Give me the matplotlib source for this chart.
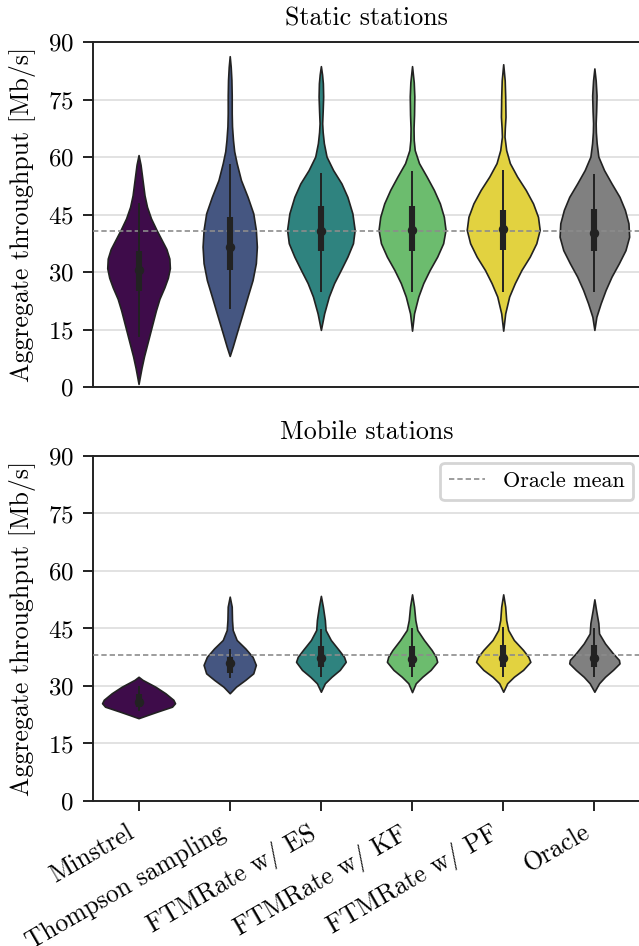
import colorsys
import numpy as np
import matplotlib
matplotlib.use('Agg')
import matplotlib.pyplot as plt
from matplotlib import colors as mcolors

plt.rcParams['font.family'] = 'serif'
plt.rcParams['font.serif'] = ['cmr10']
plt.rcParams['mathtext.fontset'] = 'cm'
plt.rcParams['axes.formatter.use_mathtext'] = True
plt.rcParams['font.size'] = 9

methods = ['Minstrel', 'Thompson sampling', 'FTMRate w/ ES', 'FTMRate w/ KF',
           'FTMRate w/ PF', 'Oracle']

# density profiles (throughput value, relative density) per method
static_vals = [
    [0.8, 2.5, 5, 8, 11, 14, 17, 20, 23, 26, 28.5, 31, 33.5, 36, 38.5, 41, 44, 47, 50, 54, 58, 60.5],
    [8.1, 10.5, 14.9, 19.2, 23.6, 27.9, 32.3, 36.6, 41.0, 45.3, 49.6, 54.0, 58.4, 61.5, 64.4, 68, 71.4, 76, 80.1, 83.5, 86.3],
    [14.9, 19.2, 23.6, 27.1, 30.5, 34.0, 37.5, 41.0, 45.3, 49.6, 53.1, 56.6, 60.1, 63.6, 66.5, 68.8, 72, 75.8, 79.2, 81.5, 83.7],
    [14.7, 19.2, 23.6, 27.1, 30.5, 34.0, 37.5, 41.0, 44.4, 47.9, 51.4, 54.9, 58.4, 61.8, 64.4, 67.5, 71, 75.8, 79.5, 83.7],
    [14.7, 19.2, 23.6, 27.1, 30.5, 34.0, 37.5, 41.0, 44.4, 47.9, 51.4, 54.9, 58.4, 61.8, 65.3, 67.5, 70.5, 75.8, 80, 84.2],
    [14.9, 18.3, 21.8, 25.3, 28.8, 32.3, 35.7, 39.2, 42.7, 46.2, 49.6, 53.1, 56.6, 60.1, 63.6, 66.5, 68.8, 72, 76, 80, 83.1],
]
static_dens = [
    [0, 1.2, 3, 5.5, 8.5, 11.5, 14.5, 17.5, 21, 26, 29.5, 31.5, 31, 28, 23, 18, 12.5, 8.5, 6, 4, 2, 0],
    [0, 3, 8, 13, 18, 23, 26.3, 27.3, 26.3, 23.7, 18, 11.3, 7, 4.5, 3.3, 2.3, 2, 2, 1.7, 1, 0],
    [0, 3.3, 8, 13.3, 20, 26.7, 32.3, 34, 31.7, 26.7, 20.7, 12.3, 5.7, 3, 1.8, 1.3, 1.8, 2.3, 2, 1.2, 0],
    [0, 2, 6.3, 11.3, 17.7, 25.3, 31.3, 33.7, 32, 28, 22, 14.7, 7, 2.7, 1.7, 1.5, 2, 2.3, 1.7, 0],
    [0, 2, 6, 11.7, 18.3, 26.7, 33.3, 36.7, 35, 30, 22.7, 14, 6.7, 3, 1.3, 1.6, 2.3, 2, 1.5, 0],
    [0, 2, 6.3, 11.3, 17.3, 24.7, 31.3, 35, 34.3, 30.7, 25.3, 17.3, 9.7, 4, 2.3, 1.5, 1.3, 1.8, 2.2, 1.3, 0],
]

mobile_vals = [
    [21.6, 22.4, 23.3, 24.6, 25.5, 26.4, 28.1, 29.8, 31.6, 32.4],
    [28.1, 29.8, 31.6, 33.3, 35.5, 37.6, 39.8, 42.0, 44.6, 47.2, 50.7, 53.3],
    [28.5, 30.7, 32.4, 34.2, 36.3, 37.6, 39.4, 42.0, 44.6, 47.2, 50.7, 53.5],
    [28.4, 30.7, 32.4, 34.2, 36.3, 37.6, 39.4, 42.0, 44.6, 47.2, 50.7, 53.9],
    [28.5, 30.7, 32.4, 34.2, 36.3, 37.6, 39.4, 42.0, 44.6, 47.2, 50.7, 53.9],
    [28.5, 30.7, 32.4, 34.2, 35.9, 36.8, 38.5, 41.1, 43.7, 46.4, 49.8, 52.6],
]
mobile_dens = [
    [0, 8.7, 18.7, 33.7, 36.7, 35, 27, 17, 4, 0],
    [0, 6.3, 15.7, 23.7, 26.3, 23, 15.7, 7, 3, 2.3, 2, 0],
    [0, 4, 10.7, 19, 25, 23.3, 18, 10, 4.7, 4, 2, 0],
    [0, 3.7, 10.3, 18.7, 25.3, 24, 19.7, 12, 5.3, 3.3, 2, 0],
    [0, 4, 10.7, 20, 27.3, 25.3, 20, 10.7, 5, 3, 2, 0],
    [0, 4.7, 10.7, 18.7, 25.3, 24.7, 18.7, 10.7, 4.7, 4, 1.7, 0],
]

# box statistics: whisker low, q1, median, q3, whisker high
static_box = [
    [13.1, 25.1, 30.5, 35.6, 47.9],
    [20.3, 30.5, 36.5, 44.3, 58.2],
    [24.9, 35.6, 40.8, 47.3, 55.9],
    [24.9, 35.6, 40.9, 47.3, 56.3],
    [24.9, 35.7, 41.3, 46.3, 56.6],
    [24.9, 35.6, 40.1, 46.4, 55.6],
]
mobile_box = [
    [23.6, 24.4, 25.9, 27.8, 30.0],
    [32.0, 33.3, 36.1, 37.6, 39.6],
    [32.3, 35.0, 37.2, 40.4, 44.8],
    [32.4, 35.0, 37.1, 40.4, 45.0],
    [32.4, 35.0, 37.2, 40.7, 45.5],
    [32.4, 35.0, 37.2, 40.7, 45.0],
]

oracle_mean = [40.8, 38.1]


def desaturate(c, prop=0.75):
    h, l, s = colorsys.rgb_to_hls(*mcolors.to_rgb(c))
    return colorsys.hls_to_rgb(h, l, s * prop)


cmap = plt.get_cmap('viridis')
palette = [desaturate(cmap(v)) for v in (0.0, 0.25, 0.5, 0.75, 1.0)] + [(0.5, 0.5, 0.5)]
edge = '#222222'


def draw_violins(ax, vals, dens, box):
    dmax = max(max(d) for d in dens)
    for i in range(len(vals)):
        y = np.array(vals[i])
        w = 0.4 * np.array(dens[i]) / dmax
        ax.fill_betweenx(y, i - w, i + w, facecolor=palette[i], edgecolor=edge,
                         linewidth=0.6, zorder=2)
        lo, q1, med, q3, hi = box[i]
        ax.plot([i, i], [lo, hi], color=edge, lw=0.7, solid_capstyle='butt', zorder=4)
        ax.plot([i, i], [q1, q3], color=edge, lw=2.2, solid_capstyle='butt', zorder=4)
        ax.plot([i], [med], marker='o', ms=2.4, color=edge, mec=edge, zorder=5)


fig = plt.figure(figsize=(3.195, 4.73), dpi=200)
ax1 = fig.add_axes([0.1455, 0.5909, 0.856, 0.3647])
ax2 = fig.add_axes([0.1455, 0.1533, 0.856, 0.3647])

for ax, vals, dens, box, mean, title in (
        (ax1, static_vals, static_dens, static_box, oracle_mean[0], 'Static stations'),
        (ax2, mobile_vals, mobile_dens, mobile_box, oracle_mean[1], 'Mobile stations')):
    draw_violins(ax, vals, dens, box)
    ax.axhline(mean, color='#8c8c8c', ls='--', lw=0.6, dashes=(3.2, 1.8), zorder=3,
               label='Oracle mean')
    ax.set_xlim(-0.5, 5.5)
    ax.set_ylim(0, 90)
    ax.set_yticks(np.arange(0, 91, 15))
    ax.yaxis.grid(True, color='#e2e2e2', lw=0.7, zorder=0)
    ax.set_axisbelow(True)
    ax.set_ylabel('Aggregate throughput [Mb/s]', fontsize=9.3)
    ax.set_title(title, fontsize=9.3)
    for s in ax.spines.values():
        s.set_color('#222222')
        s.set_linewidth(0.7)
    ax.spines['right'].set_visible(False)
    ax.tick_params(colors='#222222', labelcolor='black', width=0.7)

ax1.set_xticks(range(6))
ax1.tick_params(axis='x', bottom=False, labelbottom=False)
ax2.set_xticks(range(6))
ax2.set_xticklabels(methods, rotation=30, ha='right', fontsize=9.2)

leg = ax2.legend(loc='upper right', fontsize=8, fancybox=True, framealpha=1,
                 handlelength=1.6, borderaxespad=0.3)
leg.get_frame().set_edgecolor('#d5d5d5')
leg.get_frame().set_linewidth(1.0)

fig.savefig('out.png', dpi=200)
